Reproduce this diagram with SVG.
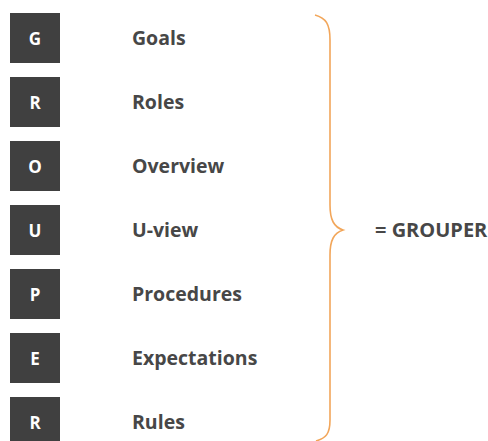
<svg xmlns="http://www.w3.org/2000/svg" width="488" height="441" viewBox="0 0 488 441">
<style>
.box{fill:#404040}
.ltr{font-family:"Open Sans","Liberation Sans",sans-serif;font-weight:700;font-size:17px;fill:#ffffff;text-anchor:middle;dominant-baseline:central}
.lbl{font-family:"Open Sans","Liberation Sans",sans-serif;font-weight:700;font-size:19.5px;fill:#474747;dominant-baseline:central}
.big{font-size:20px}
.brace{fill:none;stroke:#F2A65A;stroke-width:1.6}
</style>
<rect width="488" height="441" fill="#ffffff"/>
<g id="n-g"><rect class="box" x="10" y="13" width="50" height="50"/><text class="ltr" x="35" y="38">G</text><text class="lbl" x="132" y="37">Goals</text></g>
<g id="n-r1"><rect class="box" x="10" y="77" width="50" height="50"/><text class="ltr" x="35" y="102">R</text><text class="lbl" x="132" y="101">Roles</text></g>
<g id="n-o"><rect class="box" x="10" y="141" width="50" height="50"/><text class="ltr" x="35" y="166">O</text><text class="lbl" x="132" y="165">Overview</text></g>
<g id="n-u"><rect class="box" x="10" y="205" width="50" height="50"/><text class="ltr" x="35" y="230">U</text><text class="lbl" x="132" y="229">U-view</text></g>
<g id="n-p"><rect class="box" x="10" y="269" width="50" height="50"/><text class="ltr" x="35" y="294">P</text><text class="lbl" x="132" y="293">Procedures</text></g>
<g id="n-e"><rect class="box" x="10" y="333" width="50" height="50"/><text class="ltr" x="35" y="358">E</text><text class="lbl" x="132" y="357">Expectations</text></g>
<g id="n-r2"><rect class="box" x="10" y="397" width="50" height="50"/><text class="ltr" x="35" y="422">R</text><text class="lbl" x="132" y="421">Rules</text></g>
<g id="connectors">
<path class="brace" d="M315,15 C326,18 330,24 330,40 L330,205 C330,220 334,227 343,230 C334,233 330,240 330,255 L330,420 C330,434 326,438 316,441"/>
</g>
<g id="n-grouper"><text class="lbl big" x="375" y="229">= GROUPER</text></g>
</svg>
